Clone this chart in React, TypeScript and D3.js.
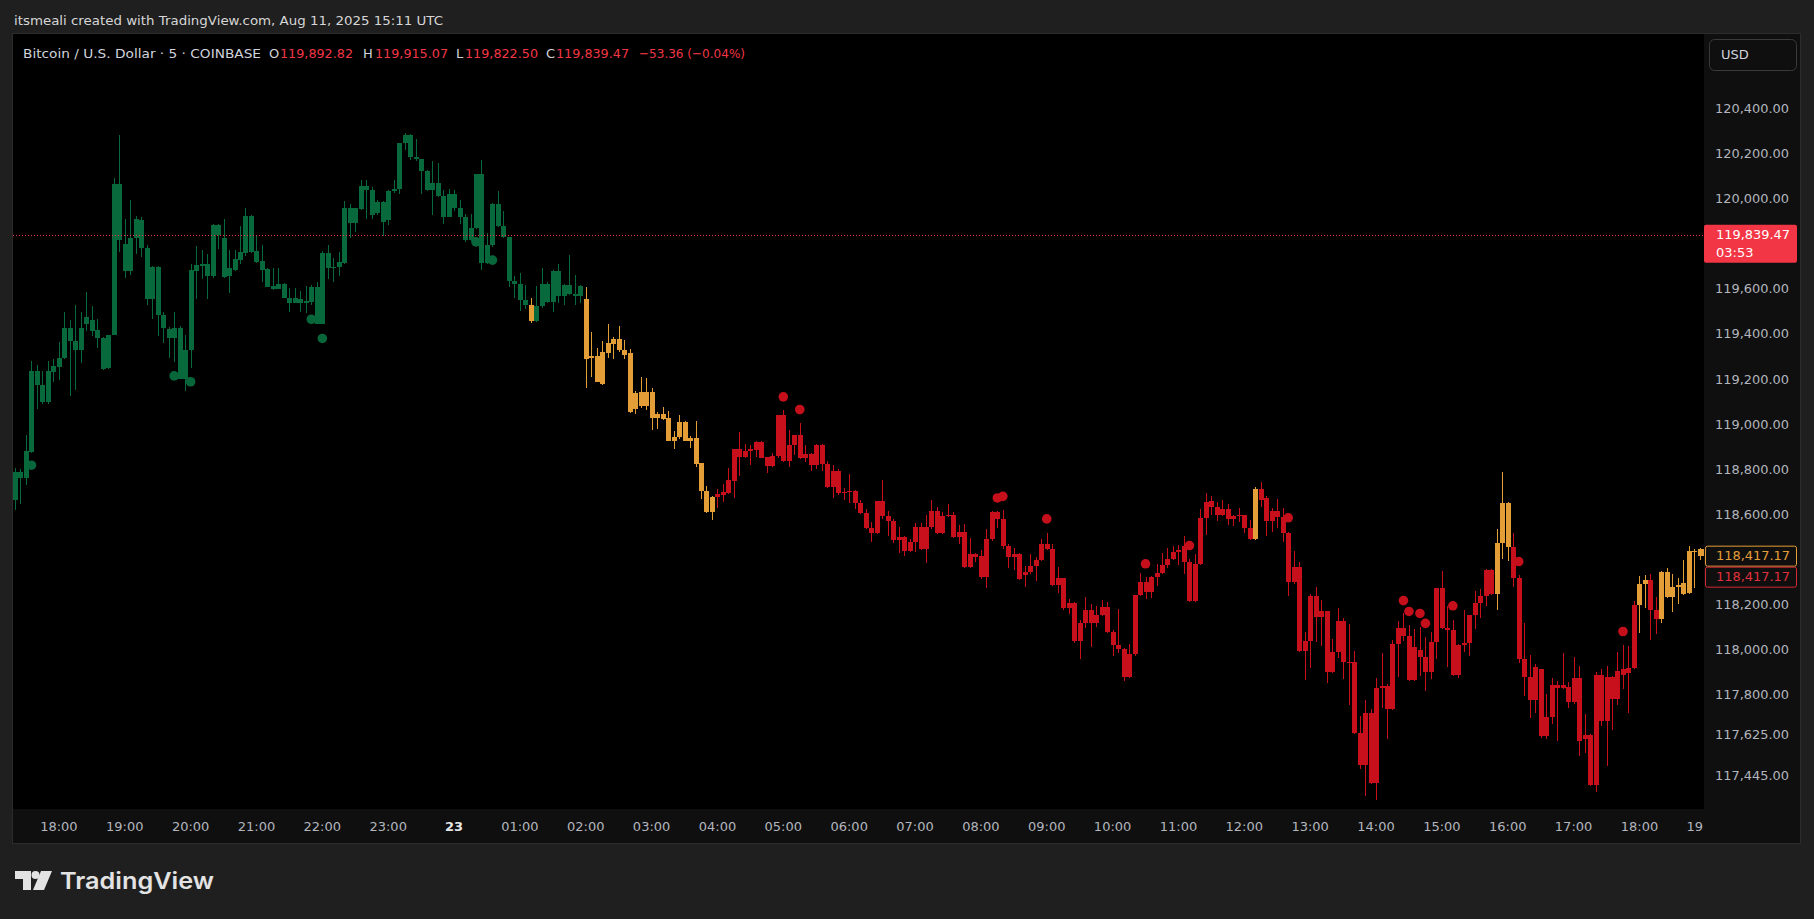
import React from 'react';
import * as d3 from 'd3';

// ---------- DATA (5-minute candles, 17:20 -> 19:00 next day) ----------
// [open, high, low, close]
const ohlc: number[][] = [
  // 0
  [118663,118804,118619,118789],[118790,118800,118648,118762],[118762,118951,118730,118880],[118877,119279,118870,119235],[119235,119264,119069,119173],
  [119173,119235,119090,119099],[119099,119279,119090,119235],[119232,119287,119188,119257],[119254,119362,119195,119295],[119294,119499,119290,119428],
  // 10
  [119428,119461,119126,119369],[119369,119526,119151,119328],[119328,119495,119272,119428],[119443,119588,119414,119473],[119461,119523,119391,119414],
  [119419,119464,119338,119382],[119384,119387,119240,119244],[119247,119397,119244,119394],[119394,120089,119394,120066],[120066,120281,119764,119815],
  // 20
  [119800,119911,119648,119679],[119679,119992,119660,119823],[119826,119922,119753,119911],[119907,119919,119741,119781],[119783,119793,119530,119554],
  [119554,119700,119465,119697],[119697,119700,119391,119483],[119486,119498,119360,119427],[119421,119431,119295,119382],[119382,119495,119276,119428],
  // 30
  [119428,119436,119200,119202],[119202,119394,119148,119328],[119328,119709,119247,119682],[119679,119789,119554,119705],[119702,119771,119642,119712],
  [119712,119756,119554,119657],[119657,119889,119650,119882],[119882,119889,119775,119837],[119827,119911,119650,119653],[119657,119774,119582,119690],
  // 40
  [119682,119771,119679,119730],[119727,119877,119712,119761],[119759,119960,119744,119922],[119922,119926,119760,119764],[119767,119840,119715,119719],
  [119722,119792,119631,119682],[119687,119690,119606,119609],[119613,119690,119594,119598],[119598,119690,119598,119623],[119623,119626,119557,119560],
  // 50
  [119561,119604,119495,119538],[119538,119605,119535,119557],[119554,119589,119495,119535],[119545,119611,119493,119535],[119540,119616,119530,119608],
  [119608,119628,119443,119446],[119446,119767,119442,119759],[119759,119796,119642,119693],[119693,119737,119631,119697],[119697,119761,119657,119719],
  // 60
  [119715,119988,119712,119960],[119960,119978,119826,119892],[119892,119960,119852,119956],[119953,120084,119948,120055],[120055,120084,119908,120037],
  [120040,120052,119908,119926],[119936,119992,119929,119984],[119984,119988,119834,119896],[119904,120040,119882,120032],[120032,120081,120026,120044],
  // 70
  [120041,120247,120022,120244],[120244,120292,120214,120281],[120281,120284,120170,120182],[120182,120266,120167,120175],[120174,120177,120019,120121],
  [120121,120128,120034,120037],[120037,120168,119926,120071],[120071,120159,120007,120010],[120010,120037,119886,119919],[119919,120041,119916,120022],
  // 80
  [120022,120037,119945,119959],[119959,119992,119885,119919],[119919,119933,119808,119815],[119815,119933,119812,119871],[119871,120111,119865,120108],
  [120108,120173,119682,119715],[119715,119849,119712,119793],[119793,119981,119786,119978],[119978,120032,119874,119877],[119877,119944,119827,119830],
  // 90
  [119830,119830,119608,119634],[119634,119656,119560,119623],[119623,119668,119502,119549],[119549,119616,119510,119527],[119527,119557,119449,119456],
  [119456,119611,119453,119523],[119523,119690,119517,119623],[119623,119631,119538,119542],[119542,119682,119498,119678],[119678,119712,119538,119567],
  // 100
  [119567,119623,119527,119619],[119619,119749,119572,119575],[119575,119660,119527,119567],[119567,119616,119538,119611],[119556,119608,119161,119288],
  [119295,119407,119209,119300],[119301,119339,119185,119187],[119177,119367,119175,119319],[119314,119443,119295,119359],[119357,119387,119288,119376],
  // 110
  [119376,119434,119320,119328],[119328,119372,119288,119305],[119314,119332,119050,119053],[119068,119146,119044,119137],[119141,119208,119072,119079],
  [119079,119203,119062,119141],[119141,119159,118973,119028],[119028,119053,118977,119044],[119044,119075,119017,119022],[119026,119057,118924,118926],
  // 120
  [118926,118969,118889,118942],[118942,119040,118936,119008],[119008,119016,118924,118926],[118926,118946,118895,118938],[118938,119013,118811,118822],
  [118827,118830,118669,118704],[118703,118725,118608,118611],[118611,118681,118574,118676],[118676,118712,118629,118691],[118685,118734,118655,118700],
  // 130
  [118695,118805,118692,118752],[118749,118892,118673,118889],[118889,118964,118771,118855],[118855,118911,118852,118880],[118880,118907,118818,118889],
  [118884,118924,118853,118920],[118920,118924,118848,118849],[118853,118856,118783,118814],[118814,118871,118811,118858],[118858,119042,118850,119040],
  // 140
  [119040,119062,118833,118836],[118836,118973,118809,118907],[118907,118953,118862,118951],[118951,119004,118846,118849],[118852,118907,118833,118867],
  [118867,118873,118793,118818],[118818,118910,118800,118907],[118907,118910,118793,118824],[118824,118836,118718,118720],[118720,118818,118673,118791],
  // 150
  [118791,118803,118685,118694],[118694,118715,118663,118701],[118701,118778,118650,118705],[118703,118706,118623,118650],[118650,118663,118602,118605],
  [118605,118623,118536,118539],[118539,118565,118477,118517],[118517,118661,118515,118658],[118658,118752,118579,118593],[118593,118614,118503,118570],
  // 160
  [118570,118580,118472,118486],[118486,118543,118428,118499],[118499,118503,118415,118437],[118437,118490,118433,118477],[118477,118561,118433,118543],
  [118543,118561,118443,118446],[118446,118596,118384,118543],[118543,118663,118536,118614],[118614,118632,118515,118517],[118517,118610,118515,118592],
  // 170
  [118592,118645,118588,118596],[118596,118610,118496,118499],[118499,118552,118468,118521],[118521,118557,118362,118366],[118366,118495,118363,118424],
  [118424,118427,118388,118412],[118415,118441,118313,118322],[118322,118534,118273,118490],[118490,118613,118483,118610],[118610,118613,118539,118579],
  // 180
  [118579,118619,118446,118459],[118459,118468,118362,118410],[118410,118450,118353,118424],[118424,118427,118310,118313],[118331,118370,118277,118344],
  [118344,118424,118338,118371],[118371,118412,118304,118400],[118400,118493,118394,118468],[118468,118517,118443,118446],[118446,118468,118283,118286],
  // 190
  [118286,118366,118251,118317],[118317,118320,118176,118185],[118185,118225,118158,118207],[118207,118210,118029,118038],[118038,118131,117959,118118],
  [118118,118233,118096,118176],[118176,118202,118012,118118],[118118,118193,118100,118153],[118153,118220,118150,118189],[118189,118211,118075,118078],
  // 200
  [118078,118086,117972,118021],[118021,118180,117985,118003],[118003,118007,117861,117879],[117879,118025,117876,117981],[117981,118245,117972,118242],
  [118242,118340,118239,118300],[118300,118322,118224,118255],[118255,118326,118229,118322],[118322,118379,118282,118340],[118340,118428,118335,118375],
  // 210
  [118375,118450,118362,118402],[118402,118459,118399,118433],[118433,118464,118375,118441],[118459,118504,118335,118388],[118388,118402,118212,118215],
  [118215,118424,118212,118379],[118379,118623,118375,118583],[118583,118694,118508,118654],[118659,118681,118597,118632],[118632,118654,118570,118597],
  // 220
  [118597,118663,118594,118623],[118623,118645,118552,118579],[118579,118596,118548,118592],[118592,118628,118567,118596],[118596,118599,118517,118539],
  [118539,118574,118486,118490],[118490,118722,118486,118712],[118712,118743,118632,118663],[118672,118681,118504,118570],[118570,118628,118521,118614],
  // 230
  [118614,118667,118539,118588],[118588,118628,118477,118517],[118517,118521,118238,118300],[118300,118437,118292,118366],[118366,118388,117991,117994],
  [117994,118078,117865,118038],[118038,118247,117919,118238],[118238,118278,118034,118145],[118145,118220,118016,118171],[118171,118174,117852,117901],
  // 240
  [117901,118047,117898,117990],[117990,118185,117963,118127],[118127,118140,117870,117945],[117945,118114,117755,117948],[117948,117994,117626,117631],
  [117631,117706,117471,117489],[117489,117777,117352,117719],[117719,117737,117406,117409],[117409,117874,117334,117830],[117830,117985,117741,117839],
  // 250
  [117839,117848,117604,117737],[117737,118043,117734,118025],[118025,118127,117879,118096],[118096,118162,118038,118060],[118060,118109,117862,117865],
  [117865,118091,117862,118012],[117998,118100,117883,117967],[117967,118056,117817,117901],[117901,118078,117870,118034],[118034,118276,117959,118273],
  // 260
  [118273,118348,118093,118096],[118096,118193,117923,118087],[118087,118131,117885,117888],[117888,118024,117874,118021],[118021,118176,117990,118029],
  [118029,118156,117972,118153],[118153,118260,118092,118207],[118207,118269,118140,118238],[118238,118356,118193,118353],[118353,118356,118243,118247],
  // 270
  [118247,118535,118176,118473],[118473,118787,118402,118650],[118650,118653,118393,118455],[118455,118517,118278,118318],[118318,118331,117941,117959],
  [117959,118118,117795,117879],[117879,117976,117697,117777],[117777,117936,117719,117923],[117914,117917,117609,117617],[117617,117804,117604,117702],
  // 280
  [117702,117874,117671,117843],[117843,117861,117595,117830],[117830,117985,117826,117845],[117834,117857,117742,117768],[117768,117967,117761,117874],
  [117874,117928,117529,117595],[117604,117715,117542,117622],[117622,117626,117397,117400],[117400,117901,117369,117888],[117888,117914,117662,117684],
  // 290
  [117684,117928,117484,117879],[117879,117882,117644,117781],[117781,117990,117755,117905],[117888,118021,117826,117914],[117897,118016,117719,117919],
  [117919,118216,117916,118198],[118198,118326,118074,118291],[118291,118331,118185,118309],[118309,118335,118043,118176],[118176,118233,118069,118136],
  // 300
  [118136,118347,118118,118344],[118344,118362,118229,118233],[118233,118335,118167,118278],[118278,118318,118202,118287],[118295,118397,118243,118247],
  [118251,118462,118247,118439],[118439,118445,118273,118435],[118415,118450,118397,118446],[118446,118450,118410,118417.17],
];

// trend regime of the candles: starting index of each run and its kind
const regimeStarts = [0, 94, 95, 104, 128, 226, 227, 270, 273, 296, 298, 300];
const regimeKinds = ['g', 'o', 'g', 'o', 'r', 'o', 'r', 'o', 'r', 'o', 'r', 'o'];

// signal dots: candle index and price
const greenDotIdx = [3, 29, 32, 54, 56, 84, 87];
const greenDotPrice = [118818, 119214, 119188, 119465, 119380, 119808, 119727];
const redDotIdx = [140, 143, 179, 180, 188, 206, 214, 232, 253, 254, 256, 257, 262, 274, 293];
const redDotPrice = [119121, 119065, 118673, 118680, 118580, 118381, 118462, 118585, 118218, 118170, 118161, 118117, 118195, 118391, 118081];

const priceTicks = [120400, 120200, 120000, 119600, 119400, 119200, 119000, 118800, 118600, 118200, 118000, 117800, 117625, 117445];
const timeLabels = ['18:00', '19:00', '20:00', '21:00', '22:00', '23:00', '23', '01:00', '02:00', '03:00', '04:00', '05:00', '06:00',
  '07:00', '08:00', '09:00', '10:00', '11:00', '12:00', '13:00', '14:00', '15:00', '16:00', '17:00', '18:00', '19:00'];
const timeLabelFirstIdx = 8;
const candlesPerHour = 12;

const headerText = 'itsmeali created with TradingView.com, Aug 11, 2025 15:11 UTC';
const symbolText = 'Bitcoin / U.S. Dollar · 5 · COINBASE';
const legendKeys = ['O', 'H', 'L', 'C'];
const legendValues = ['119,892.82', '119,915.07', '119,822.50', '119,839.47'];
const legendChange = '−53.36 (−0.04%)';
const livePrice = 119839.47;
const liveCountdown = '03:53';
const lastClose = 118417.17;

const COLORS: Record<string, string> = { g: '#07693c', o: '#e49e38', r: '#c80f1c' };
const DOT_COLORS: Record<string, string> = { g: '#07673b', r: '#c5101c' };

const fmt = d3.format(',.2f');

export default function App() {
  const W = 1814, H = 919;
  const plot = { left: 13, top: 34, right: 1704, bottom: 809 };
  const x = d3.scaleLinear().domain([0, ohlc.length - 1]).range([15, 1705.3]);
  const y = d3.scaleLinear().domain([117445, 120400]).range([775, 108.3]);
  const kindAt = (i: number) => regimeKinds[d3.bisectRight(regimeStarts, i) - 1];

  const liveY = y(livePrice);
  const closeY = y(lastClose);
  const legendKeyX = [269, 363, 456, 546];
  const legendValX = [280, 375, 465, 556];

  return (
    <div style={{ position: 'absolute', left: 0, top: 0 }}>
      <svg width={W} height={H} style={{ display: 'block' }} fontFamily="'DejaVu Sans', 'Liberation Sans', sans-serif">
        <defs>
          <clipPath id="plotClip">
            <rect x={plot.left} y={plot.top} width={plot.right - plot.left} height={plot.bottom - plot.top} />
          </clipPath>
          <clipPath id="timeClip">
            <rect x={plot.left} y={plot.bottom} width={plot.right - plot.left} height={34} />
          </clipPath>
        </defs>
        <rect x={0} y={0} width={W} height={H} fill="#1f1f1f" />
        <text x={14} y={25} fontSize={13} fill="#d6d6d6" textLength={429} lengthAdjust="spacingAndGlyphs">{headerText}</text>

        {/* frame + axis panels */}
        <rect x={12.5} y={33.5} width={1788} height={810} fill="#0f0f0f" stroke="#2c2c2c" strokeWidth={1} />
        <rect x={plot.left} y={plot.top} width={plot.right - plot.left} height={plot.bottom - plot.top} fill="#000000" />

        {/* candles */}
        <g clipPath="url(#plotClip)" shapeRendering="crispEdges">
          {ohlc.map((d, i) => {
            const [o, h, l, c] = d;
            const cx = Math.round(x(i));
            const col = COLORS[kindAt(i)];
            const top = Math.round(y(Math.max(o, c)));
            const bot = Math.round(y(Math.min(o, c)));
            const wTop = Math.round(y(h));
            const wBot = Math.round(y(l));
            return (
              <g key={i}>
                <rect x={cx} y={wTop} width={1} height={Math.max(1, wBot - wTop)} fill={col} />
                <rect x={cx - 2} y={top} width={5} height={Math.max(1, bot - top)} fill={col} />
              </g>
            );
          })}
        </g>
        <g clipPath="url(#plotClip)">
          {greenDotIdx.map((idx, k) => (
            <circle key={'g' + k} cx={x(idx)} cy={y(greenDotPrice[k])} r={4.8} fill={DOT_COLORS.g} />
          ))}
          {redDotIdx.map((idx, k) => (
            <circle key={'r' + k} cx={x(idx)} cy={y(redDotPrice[k])} r={4.8} fill={DOT_COLORS.r} />
          ))}
          <line x1={plot.left} x2={plot.right} y1={Math.round(liveY) + 0.5} y2={Math.round(liveY) + 0.5}
            stroke="#f23645" strokeWidth={1} strokeDasharray="1 2" />
        </g>

        {/* legend */}
        <g fontSize={13}>
          <text x={23} y={58} fill="#d1d4dc" textLength={238} lengthAdjust="spacingAndGlyphs">{symbolText}</text>
          {legendKeys.map((k, i) => (
            <g key={k}>
              <text x={legendKeyX[i]} y={58} fill="#d1d4dc">{k}</text>
              <text x={legendValX[i]} y={58} fill="#f23645" textLength={73} lengthAdjust="spacingAndGlyphs">{legendValues[i]}</text>
            </g>
          ))}
          <text x={639} y={58} fill="#f23645" textLength={106} lengthAdjust="spacingAndGlyphs">{legendChange}</text>
        </g>

        {/* price axis */}
        <rect x={1709.5} y={39.5} width={87} height={31} rx={5} fill="#0f0f0f" stroke="#3a3a3a" />
        <text x={1721} y={59} fontSize={13} fill="#d1d4dc">USD</text>
        <g fontSize={13} fill="#b2b5be">
          {priceTicks.map((p) => (
            <text key={p} x={1715} y={y(p) + 4.5} textLength={74} lengthAdjust="spacingAndGlyphs">{fmt(p)}</text>
          ))}
        </g>
        <rect x={1704} y={liveY - 10} width={93} height={38} rx={2} fill="#f23645" />
        <text x={1716} y={liveY + 4.5} fontSize={13} fill="#ffffff" textLength={74} lengthAdjust="spacingAndGlyphs">{fmt(livePrice)}</text>
        <text x={1716} y={liveY + 22.5} fontSize={13} fill="#ffffff">{liveCountdown}</text>

        <rect x={1705.5} y={closeY - 9.5} width={91} height={20} rx={2} fill="#0f0f0f" stroke="#e49e38" />
        <text x={1716} y={closeY + 4.5} fontSize={13} fill="#e49e38" textLength={74} lengthAdjust="spacingAndGlyphs">{fmt(lastClose)}</text>
        <rect x={1705.5} y={closeY + 11.5} width={91} height={20} rx={2} fill="#0f0f0f" stroke="#d42a37" />
        <text x={1716} y={closeY + 25.5} fontSize={13} fill="#e0303e" textLength={74} lengthAdjust="spacingAndGlyphs">{fmt(lastClose)}</text>

        {/* time axis */}
        <g clipPath="url(#timeClip)" fontSize={13}>
          {timeLabels.map((t, k) => (
            <text key={k} x={x(timeLabelFirstIdx + k * candlesPerHour)} y={831} textAnchor="middle"
              fill={t.length === 2 ? '#e6e6e6' : '#b2b5be'} fontWeight={t.length === 2 ? 'bold' : 'normal'}>{t}</text>
          ))}
        </g>

        {/* TradingView logo */}
        <g fill="#e3e3e3">
          <path d="M15,871 H31 V890 H23 V879 H15 Z" />
          <circle cx={35.5} cy={875} r={4} />
          <path d="M41,871 H52 L44,890 H33 Z" />
          <text x={60} y={889} fontSize={23} fontWeight={600} fontFamily="Inter, 'Open Sans', sans-serif"
            textLength={154} lengthAdjust="spacingAndGlyphs">TradingView</text>
        </g>
      </svg>
    </div>
  );
}
